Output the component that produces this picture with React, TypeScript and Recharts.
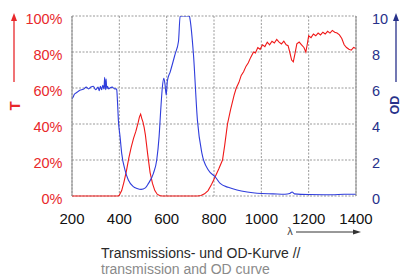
import { LineChart, Line, XAxis, YAxis, CartesianGrid } from "recharts"

// wavelength grid (nm) and tick labels
const xTicks = [200, 400, 600, 800, 1000, 1200, 1400]
const tTicks = [0, 20, 40, 60, 80, 100]
const odTicks = [0, 2, 4, 6, 8, 10]

// transmission T (%)
const tWavelength = [
  200, 300, 395, 400, 410, 420, 430, 440, 450, 460, 470, 480, 485, 490, 495, 500, 505, 510, 520, 530,
  540, 550, 560, 570, 580, 720, 730, 745, 760, 775, 790, 805, 820, 836, 845, 857, 870, 885, 894, 905,
  915, 925, 935, 945, 955, 967, 975, 985, 995, 1005, 1015, 1025, 1035, 1045, 1055, 1065, 1075, 1085,
  1095, 1105, 1113, 1120, 1128, 1135, 1142, 1150, 1160, 1170, 1180, 1188, 1195, 1200, 1210, 1220,
  1230, 1240, 1250, 1260, 1270, 1280, 1290, 1300, 1310, 1320, 1330, 1340, 1350, 1360, 1370, 1380,
  1390, 1400,
]
const tValues = [
  0, 0, 0, 0.5, 3, 8, 14, 21, 27, 32, 36, 41, 44, 45.5, 43, 41, 38, 34, 23, 13,
  7, 3, 1, 0.3, 0, 0, 0, 0.3, 1.2, 3, 6.5, 10.7, 15, 20, 28, 40, 48, 56, 60, 63,
  67, 69, 72, 74, 77, 80, 79.5, 82.5, 81.5, 84, 83, 85.5, 84, 86, 85, 87, 85.5, 84.5,
  86, 84, 83.5, 80, 75.5, 74.5, 79, 84.5, 85.5, 84, 82.5, 80, 85, 89, 88, 90,
  89, 90.5, 89.5, 91, 90, 91.5, 90.5, 92, 91, 90.5, 89.5, 87.5, 84, 82.5, 81.5, 81,
  82.5, 82,
]

// optical density OD
const odWavelength = [
  200, 205, 210, 220, 230, 240, 250, 260, 270, 280, 290, 300, 310, 315, 320, 325, 330, 335, 338, 341,
  344, 347, 350, 355, 360, 370, 380, 386, 389, 392, 396, 403, 410, 424, 438, 459, 475, 492, 510, 523,
  544, 558, 568, 575, 582, 588, 593, 598, 603, 615, 636, 650, 657, 696, 699, 713, 730, 749, 776, 805,
  826, 860, 897, 940, 982, 1050, 1100, 1120, 1130, 1140, 1200, 1300, 1350, 1400,
]
const odValues = [
  5.4, 5.5, 5.65, 5.75, 5.85, 5.9, 5.95, 6.05, 5.95, 6.05, 6.1, 5.9, 6.05, 5.85, 6.1, 5.9, 6.15, 5.95, 6.6, 5.9,
  6.5, 5.95, 6.1, 5.95, 6.0, 6.05, 5.95, 5.95, 5.9, 5.3, 4.2, 3.3, 2.37, 1.44, 0.89, 0.52, 0.42, 0.37, 0.45, 0.7,
  1.26, 2.0, 3.3, 4.8, 6.07, 6.54, 6.2, 5.6, 6.4, 6.9, 7.9, 8.6, 10, 10, 9.8, 7.9, 4.2, 2.37, 1.44, 1.07,
  0.7, 0.48, 0.33, 0.22, 0.15, 0.12, 0.1, 0.14, 0.22, 0.12, 0.08, 0.07, 0.1, 0.1,
]

const tData = tWavelength.map((x, i) => ({ x, t: tValues[i] }))
const odData = odWavelength.map((x, i) => ({ x, od: odValues[i] }))

const RED = "#e8282b"
const NAVY = "#27318a"
const FONT = "'Liberation Sans', Arial, sans-serif"

export default function App() {
  return (
    <div style={{ position: "absolute", left: 0, top: 0, width: 402, height: 279, background: "#fff", fontFamily: FONT }}>
      <LineChart width={402} height={279} margin={{ top: 16, right: 6, bottom: 53, left: 12 }}>
        <CartesianGrid yAxisId="T" stroke="#9a9a9a" strokeDasharray="2 1.5" />
        <XAxis
          dataKey="x"
          type="number"
          domain={[200, 1400]}
          ticks={xTicks}
          height={30}
          axisLine={false}
          tickLine={false}
          tickMargin={11.5}
          tick={{ fill: "#111", fontSize: 15, fontFamily: FONT }}
          allowDuplicatedCategory={false}
        />
        <YAxis
          yAxisId="T"
          orientation="left"
          width={60}
          domain={[0, 100]}
          ticks={tTicks}
          tickFormatter={(v: number) => `${v}%`}
          axisLine={{ stroke: "#8a8a8a" }}
          tickLine={false}
          tickMargin={3.5}
          tick={{ fill: RED, fontSize: 14.5, fontFamily: FONT, dy: 3 }}
        />
        <YAxis
          yAxisId="OD"
          orientation="right"
          width={40}
          domain={[0, 10]}
          ticks={odTicks}
          axisLine={{ stroke: "#8a8a8a" }}
          tickLine={false}
          tickMargin={10}
          tick={{ fill: NAVY, fontSize: 14.5, fontFamily: FONT, dy: 3 }}
          allowDataOverflow
        />
        <Line
          data={tData}
          dataKey="t"
          yAxisId="T"
          type="linear"
          stroke="#f01818"
          strokeWidth={1.1}
          dot={false}
          isAnimationActive={false}
        />
        <Line
          data={odData}
          dataKey="od"
          yAxisId="OD"
          type="monotone"
          stroke="#2f3ddc"
          strokeWidth={1.1}
          dot={false}
          isAnimationActive={false}
        />
      </LineChart>
      <svg
        width={402}
        height={279}
        style={{ position: "absolute", left: 0, top: 0, pointerEvents: "none" }}
      >
        {/* T arrow, left */}
        <line x1={14} y1={82} x2={14} y2={19} stroke={RED} strokeWidth={1.3} />
        <polygon points="14,13 11,21 17,21" fill={RED} />
        <text
          x={14}
          y={106}
          transform="rotate(-90 14 106)"
          textAnchor="middle"
          dominantBaseline="central"
          fill={RED}
          fontSize={15}
          fontWeight="bold"
          fontFamily={FONT}
        >
          T
        </text>
        {/* OD arrow, right */}
        <line x1={396} y1={82} x2={396} y2={19} stroke={NAVY} strokeWidth={1.3} />
        <polygon points="396,13 393,21 399,21" fill={NAVY} />
        <text
          x={395}
          y={105}
          transform="rotate(-90 395 105)"
          textAnchor="middle"
          dominantBaseline="central"
          fill={NAVY}
          fontSize={12.5}
          fontWeight="bold"
          fontFamily={FONT}
        >
          OD
        </text>
        {/* lambda arrow */}
        <text x={290} y={235} textAnchor="middle" fill="#444" fontSize={11} fontFamily={FONT}>
          λ
        </text>
        <line x1={296} y1={232} x2={355} y2={232} stroke="#333" strokeWidth={1} />
        <polygon points="361,232 353,229.5 353,234.5" fill="#333" />
        {/* caption */}
        <text x={101} y={258} fill="#2a2a2a" fontSize={14} fontFamily={FONT}>
          Transmissions- und OD-Kurve //
        </text>
        <text x={101} y={273.5} fill="#8a8a8a" fontSize={14} fontFamily={FONT}>
          transmission and OD curve
        </text>
      </svg>
    </div>
  )
}
